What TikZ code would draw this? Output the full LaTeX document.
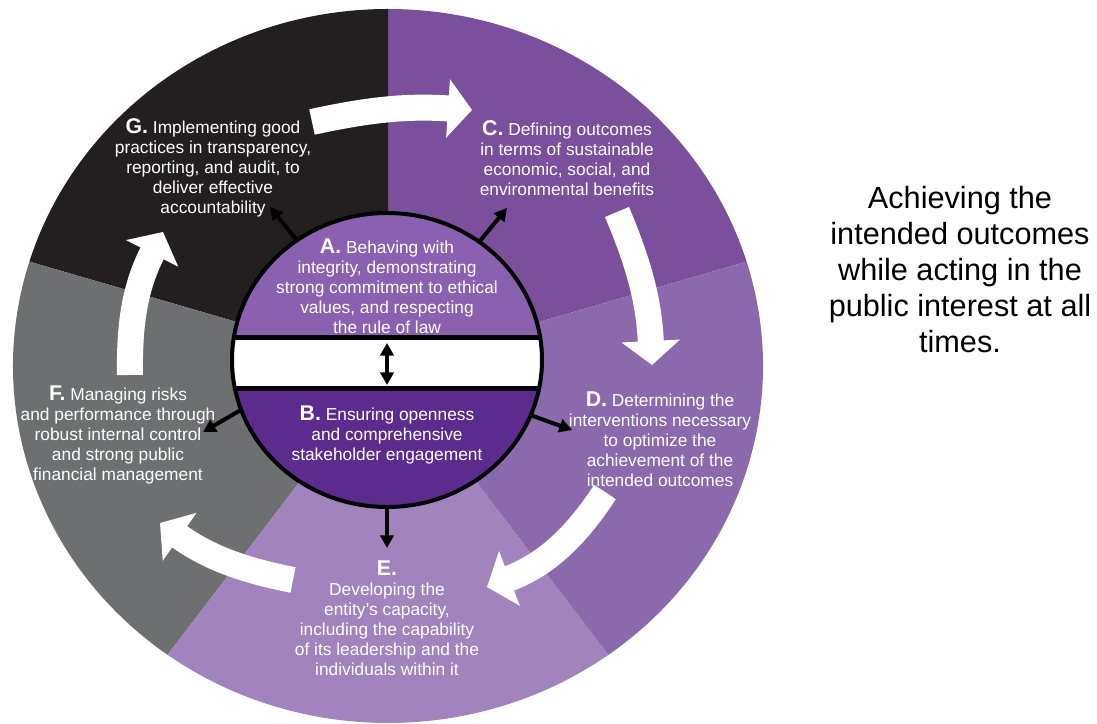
\documentclass[tikz,border=0pt]{standalone}
\usepackage{fontspec}
\setmainfont{Liberation Sans}
\usepackage{xcolor}
\usetikzlibrary{arrows.meta,calc,shapes.geometric}

\definecolor{sectC}{HTML}{7A4F9C}
\definecolor{sectD}{HTML}{8A69AD}
\definecolor{sectE}{HTML}{A184BD}
\definecolor{sectF}{HTML}{6D6F71}
\definecolor{sectG}{HTML}{231F20}
\definecolor{coreA}{HTML}{8A61B0}
\definecolor{coreB}{HTML}{5B2C8E}

\newcommand{\secletter}[1]{{\fontsize{16}{15}\selectfont\bfseries #1.}}

\begin{document}
\begin{tikzpicture}[x=0.75pt, y=0.75pt]
    \tikzset{label text/.style={text=white, align=center, inner sep=0pt, font=\fontsize{13}{15}\selectfont}}
    \tikzset{ring arrow/.style={draw=white, line width=19.5pt, -{Triangle[length=18pt,width=43pt]}}}
    \tikzset{link/.style={line width=3pt, -{Triangle[length=9.5pt,width=10pt]}}}
    \tikzset{core/.style={ellipse, draw, line width=3pt, minimum width=232.5pt, minimum height=220.5pt, inner sep=0pt}}

    \useasboundingbox (0,0) rectangle (1097,724);
    \coordinate (ctr) at (388,358);

    % Sectors
    \fill[sectC] (ctr) -- ($(ctr)+(17:375 and 357)$) arc[start angle=17, end angle=90, x radius=375, y radius=357] -- cycle;
    \fill[sectG] (ctr) -- ($(ctr)+(90:375 and 357)$) arc[start angle=90, end angle=163, x radius=375, y radius=357] -- cycle;
    \fill[sectF] (ctr) -- ($(ctr)+(163:375 and 357)$) arc[start angle=163, end angle=234, x radius=375, y radius=357] -- cycle;
    \fill[sectE] (ctr) -- ($(ctr)+(234:375 and 357)$) arc[start angle=234, end angle=306, x radius=375, y radius=357] -- cycle;
    \fill[sectD] (ctr) -- ($(ctr)+(306:375 and 357)$) arc[start angle=306, end angle=377, x radius=375, y radius=357] -- cycle;

    % Ring
    \coordinate (gc-tail) at (312,602);
    \coordinate (gc-tip) at (472,614);
    \coordinate (cd-tail) at (617,512);
    \coordinate (cd-tip) at (652,359);
    \coordinate (de-tail) at (605,232);
    \coordinate (de-tip) at (487,137);
    \coordinate (ef-tail) at (293,144);
    \coordinate (ef-tip) at (160,201);
    \coordinate (fg-tail) at (130,349);
    \coordinate (fg-tip) at (163,492);
    \draw[ring arrow] (gc-tail) to[bend left=8] (gc-tip);
    \draw[ring arrow] (cd-tail) to[bend left=10] (cd-tip);
    \draw[ring arrow] (de-tail) to[bend left=18] (de-tip);
    \draw[ring arrow] (ef-tail) to[bend left=12] (ef-tip);
    \draw[ring arrow] (fg-tail) to[bend left=14] (fg-tip);

    % Core
    \begin{scope}
        \clip (387,364) ellipse [x radius=155, y radius=147];
        \fill[coreA] (230,386) rectangle (545,512);
        \fill[white] (230,335) rectangle (545,386);
        \fill[coreB] (230,216) rectangle (545,335);
        \draw[line width=3.75pt] (230,386) -- (545,386) (230,335) -- (545,335);
    \end{scope}
    \node[core] (core) at (387,364) {};

    % Nodes
    \node[label text] (implementing) at (213,556) {\secletter{G} Implementing good\\practices in transparency,\\reporting, and audit, to\\deliver effective\\accountability};
    \node[label text] (defining) at (567,566) {\secletter{C} Defining outcomes\\in terms of sustainable\\economic, social, and\\environmental benefits};
    \node[label text] (behaving) at (387,438) {\secletter{A} Behaving with\\integrity, demonstrating\\strong commitment to ethical\\values, and respecting\\the rule of law};
    \node[label text] (ensuring) at (387,289) {\secletter{B} Ensuring openness\\and comprehensive\\stakeholder engagement};
    \node[label text] (determining) at (660,285) {\secletter{D} Determining the\\interventions necessary\\to optimize the\\achievement of the\\intended outcomes};
    \node[label text] (developing) at (387,106) {\secletter{E}\\Developing the\\entity's capacity,\\including the capability\\of its leadership and the\\individuals within it};
    \node[label text] (managing) at (118,289) {\secletter{F} Managing risks\\and performance through\\robust internal control\\and strong public\\financial management};
    \node[align=center, font=\fontsize{23}{27}\selectfont] (achieving) at (960,454) {Achieving the\\intended outcomes\\while acting in the\\public interest at all\\times.};

    % Arrows
    \coordinate (to-g) at (270,517);
    \coordinate (to-c) at (507,516);
    \coordinate (to-f) at (203,292);
    \coordinate (to-d) at (572,294);
    \coordinate (to-e) at (387,176);
    \coordinate (band-top) at (387,381);
    \coordinate (band-bot) at (387,339);
    \draw[link] (core.127) -- (to-g);
    \draw[link] (core.52) -- (to-c);
    \draw[link] (core.199) -- (to-f);
    \draw[link] (core.-21) -- (to-d);
    \draw[link] (core.south) -- (to-e);
    \draw[link, {Triangle[length=9.5pt,width=10pt]}-{Triangle[length=9.5pt,width=10pt]}] (band-top) -- (band-bot);

\end{tikzpicture}
\end{document}
